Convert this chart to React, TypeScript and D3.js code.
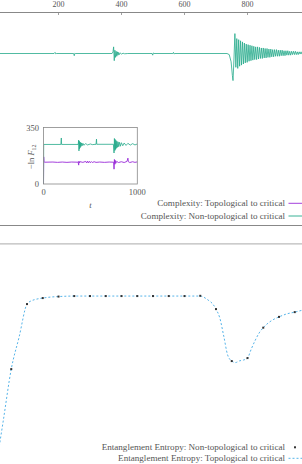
import React, { useEffect } from 'react';
import * as d3 from 'd3';

// -ln F12, non-topological to critical (main trace)
const complexityNonTopo: [number, number][] = [
  [0, 245], [100, 245], [186, 245], [189, 247], [191, 244.5], [194, 245],
  [248, 245], [250, 241], [252, 245.5], [254, 245],
  [370, 245], [373, 248], [375, 257], [377, 232], [379, 251], [381, 238], [383, 249],
  [385, 240], [387, 248], [389, 242], [391, 247], [393, 243], [396, 246], [400, 244],
  [405, 245.5], [410, 244.5], [420, 245],
  [497, 245], [499, 242], [501, 246], [503, 245],
  [563, 245], [565, 247], [567, 244], [569, 245],
  [735, 245], [742, 243], [748, 230], [752, 205], [754, 196], [757, 235], [760, 281],
  [763, 220], [766, 272], [769, 218], [772, 270], [775, 222], [778, 268], [781, 224],
  [784, 266], [787, 226], [790, 264], [793, 228], [796, 262], [799, 229], [802, 261],
  [805, 231], [808, 260], [811, 232], [814, 259], [817, 233], [820, 258], [823, 234],
  [826, 257], [829, 234], [832, 257], [835, 235], [838, 256], [841, 236], [844, 255],
  [847, 236], [850, 255], [853, 237], [856, 254], [859, 237], [862, 254], [865, 238],
  [868, 253], [871, 238], [874, 253], [877, 239], [880, 252], [883, 239], [886, 252],
  [889, 240], [892, 252], [895, 240], [898, 251], [901, 240], [904, 251], [907, 241],
  [910, 251], [913, 241], [916, 250], [919, 241], [922, 250], [925, 242], [928, 250],
  [931, 242], [934, 249], [937, 242], [940, 249], [943, 243], [946, 249], [949, 243],
  [952, 249], [955, 243], [958, 248], [961, 243], [964, 248], [967, 244], [970, 248],
  [973, 244], [976, 248], [979, 244], [982, 247], [985, 244], [988, 247], [991, 244],
  [994, 247], [997, 245], [1000, 246],
];

// inset, full range
const insetGreen: [number, number][] = [
  [0, 0], [2, 245], [185, 245], [190, 285], [193, 245], [370, 245], [375, 272], [378, 205],
  [381, 266], [384, 218], [388, 260], [392, 226], [396, 257], [400, 233], [406, 254],
  [412, 237], [420, 252], [430, 240], [450, 250], [470, 242], [500, 248], [520, 244],
  [560, 246], [565, 278], [568, 246], [745, 246], [752, 192], [756, 282], [760, 207],
  [764, 276], [768, 214], [772, 270], [776, 221], [782, 265], [788, 227], [795, 261],
  [802, 231], [810, 258], [820, 234], [830, 256], [845, 237], [860, 254], [880, 239],
  [900, 252], [925, 241], [950, 250], [975, 242], [1000, 248],
];
const insetPurple: [number, number][] = [
  [0, 0], [2, 168], [5, 140], [10, 135], [100, 136], [150, 134], [200, 136], [250, 134],
  [300, 136], [370, 135], [375, 117], [378, 142], [382, 130], [390, 138], [420, 134],
  [450, 140], [460, 130], [470, 142], [480, 131], [490, 140], [500, 132], [510, 139],
  [520, 133], [540, 138], [560, 134], [600, 136], [650, 134], [700, 136], [748, 135],
  [752, 92], [756, 152], [760, 122], [765, 146], [770, 128], [780, 140], [800, 133],
  [830, 138], [860, 133], [890, 140], [900, 160], [905, 138], [920, 133], [950, 138],
  [975, 134], [1000, 137],
];

// entanglement entropy
const eeTimes = [50, 100, 150, 200, 250, 300, 350, 400, 450, 500, 550, 600, 650, 700, 750, 800, 850, 900, 950];
const eeNonTopo = [0.402, 0.661, 0.685, 0.691, 0.693, 0.693, 0.693, 0.693, 0.693, 0.693, 0.693, 0.693, 0.694, 0.641, 0.434, 0.446, 0.567, 0.610, 0.629];
const eeTopo: [number, number][] = [
  [0, 0], [25, 0.199], [50, 0.402], [75, 0.53], [100, 0.661], [112, 0.673], [125, 0.679],
  [150, 0.685], [175, 0.689], [200, 0.691], [250, 0.693], [400, 0.693], [650, 0.693],
  [660, 0.689], [675, 0.677], [690, 0.661], [700, 0.641], [712, 0.606], [725, 0.531],
  [737, 0.458], [750, 0.434], [762, 0.428], [775, 0.435], [787, 0.438], [800, 0.446],
  [812, 0.482], [825, 0.518], [837, 0.546], [850, 0.567], [875, 0.594], [900, 0.61],
  [925, 0.622], [950, 0.629], [975, 0.637],
];

const topTicks = [200, 400, 600, 800];
const legendComplexity = ['Complexity: Topological to critical', 'Complexity: Non-topological to critical'];
const legendEntropy = ['Entanglement Entropy: Non-topological to critical', 'Entanglement Entropy: Topological to critical'];

const W = 302;
const H = 464;
const GREEN = '#25a98a';
const PURPLE = '#9a2bd8';
const BLUE = '#56b4e9';
const TEXT = '#555';
const FONT = '"Liberation Serif", "DejaVu Serif", serif';
const LEGEND_SIZE = 9.1;

export default function App() {
  useEffect(() => {
    document.body.style.margin = '0';
  }, []);

  const x = d3.scaleLinear().domain([0, 1000]).range([-4.5, 310.5]);
  const yTop = d3.scaleLinear().domain([150, 340]).range([106, 1]);
  const xIn = d3.scaleLinear().domain([0, 1000]).range([43.5, 137.3]);
  const yIn = d3.scaleLinear().domain([0, 350]).range([184, 127.5]);
  const yBot = d3.scaleLinear().domain([0, 0.8]).range([470, 269.2]);

  const mainLine = d3.line<[number, number]>().x(d => x(d[0])).y(d => yTop(d[1]));
  const insetLine = d3.line<[number, number]>().x(d => xIn(d[0])).y(d => yIn(d[1]));
  const eeLine = d3.line<[number, number]>().x(d => x(d[0])).y(d => yBot(d[1])).curve(d3.curveMonotoneX);

  return (
    <svg width={W} height={H} style={{ display: 'block', background: '#fff' }} fontFamily={FONT}>
      <defs>
        <clipPath id="inset-clip">
          <rect x={xIn(0)} y={yIn(350)} width={xIn(1000) - xIn(0)} height={yIn(0) - yIn(350)} />
        </clipPath>
      </defs>

      {/* top axis */}
      <line x1={0} x2={W} y1={12.5} y2={12.5} stroke="#888" strokeWidth={1} />
      {topTicks.map(t => (
        <g key={t}>
          <line x1={x(t)} x2={x(t)} y1={12.5} y2={15} stroke="#888" strokeWidth={0.8} />
          <text x={x(t)} y={7.2} textAnchor="middle" fontSize={8} fill={TEXT}>{t}</text>
        </g>
      ))}

      {/* main complexity trace */}
      <path d={mainLine(complexityNonTopo) || ''} fill="none" stroke={GREEN} strokeWidth={0.8} />

      {/* inset */}
      <g>
        <g clipPath="url(#inset-clip)">
          <path d={insetLine(insetPurple) || ''} fill="none" stroke={PURPLE} strokeWidth={0.9} />
          <path d={insetLine(insetGreen) || ''} fill="none" stroke={GREEN} strokeWidth={0.8} />
        </g>
        <rect x={xIn(0)} y={yIn(350)} width={xIn(1000) - xIn(0)} height={yIn(0) - yIn(350)}
          fill="none" stroke="#888" strokeWidth={0.8} />
        {[0, 350].map(v => (
          <text key={v} x={xIn(0) - 4.5} y={yIn(v) + 3} textAnchor="end" fontSize={8.5} fill={TEXT}>{v}</text>
        ))}
        {[0, 1000].map(v => (
          <text key={v} x={xIn(v)} y={195.3} textAnchor="middle" fontSize={8.5} fill={TEXT}>{v}</text>
        ))}
        <text x={(xIn(0) + xIn(1000)) / 2} y={208} textAnchor="middle" fontSize={8.5} fontStyle="italic" fill={TEXT}>t</text>
        <text transform={`translate(34,${(yIn(0) + yIn(350)) / 2 + 1}) rotate(-90)`} textAnchor="middle" fontSize={8.5} fill={TEXT}>
          −ln <tspan fontStyle="italic">F</tspan><tspan fontSize={6} dy={1.5}>12</tspan>
        </text>
      </g>

      {/* complexity legend */}
      {legendComplexity.map((s, i) => {
        const yy = 203.3 + i * 12.7;
        return (
          <g key={s}>
            <text x={285} y={yy + 3} textAnchor="end" fontSize={LEGEND_SIZE} fill={TEXT}>{s}</text>
            <line x1={288.5} x2={303} y1={yy} y2={yy} stroke={i === 0 ? PURPLE : GREEN} strokeWidth={0.9} />
          </g>
        );
      })}

      {/* separators */}
      <line x1={0} x2={W} y1={225.5} y2={225.5} stroke="#888" strokeWidth={1} />
      <line x1={0} x2={W} y1={243.8} y2={243.8} stroke="#bbb" strokeWidth={1.2} />

      {/* entanglement entropy */}
      <path d={eeLine(eeTopo) || ''} fill="none" stroke={BLUE} strokeWidth={1} strokeDasharray="2,2" />
      {eeTimes.map((t, i) => (
        <rect key={t} x={x(t) - 1} y={yBot(eeNonTopo[i]) - 1} width={2} height={2} fill="#333" />
      ))}

      {/* entropy legend */}
      <text x={285} y={447.3 + 3} textAnchor="end" fontSize={LEGEND_SIZE} fill={TEXT}>{legendEntropy[0]}</text>
      <rect x={294} y={446.3} width={2} height={2} fill="#333" />
      <text x={285} y={458.3 + 3} textAnchor="end" fontSize={LEGEND_SIZE} fill={TEXT}>{legendEntropy[1]}</text>
      <line x1={288.5} x2={303} y1={458.3} y2={458.3} stroke={BLUE} strokeWidth={1} strokeDasharray="2,2" />
    </svg>
  );
}
